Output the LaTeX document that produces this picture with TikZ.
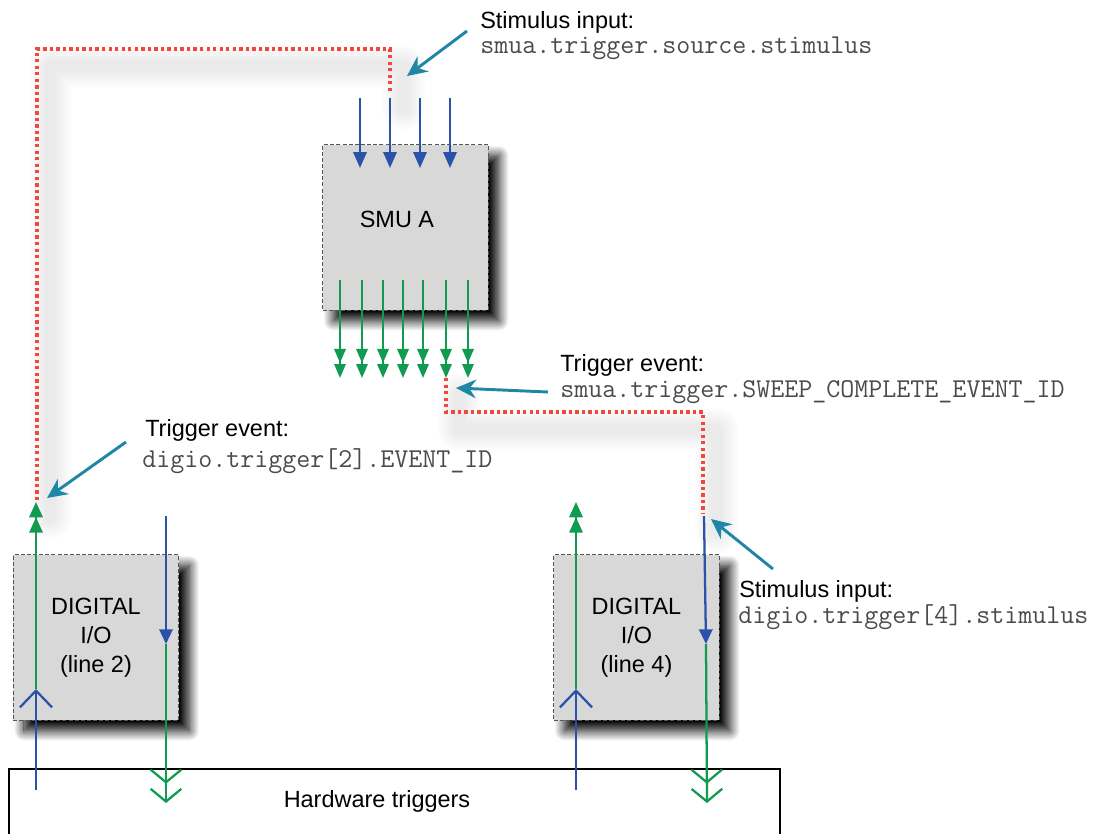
\documentclass[tikz,border=0pt]{standalone}
\usepackage{fontspec}
\setmainfont{Liberation Sans}
\usetikzlibrary{arrows.meta,shadows.blur}
\definecolor{arrblue}{RGB}{42,82,168}
\definecolor{arrgreen}{RGB}{16,155,80}
\definecolor{dotred}{RGB}{240,72,60}
\definecolor{calloutteal}{RGB}{30,135,165}
\definecolor{boxgray}{RGB}{216,216,216}
\definecolor{boxedge}{RGB}{85,85,85}
\definecolor{monogray}{RGB}{75,75,75}
\tikzset{
  unitbox/.style={draw=boxedge, dash pattern=on 3pt off 1.6pt, line width=0.9pt, fill=boxgray,
    minimum width=124pt, minimum height=124pt, inner sep=0pt, align=center,
    font=\fontsize{17.6pt}{21.75pt}\selectfont,
    blur shadow={shadow xshift=8pt, shadow yshift=-8pt, shadow blur radius=7.5pt,
      shadow blur steps=16, shadow opacity=100}},
  sanstext/.style={font=\fontsize{17.6pt}{21pt}\selectfont, anchor=base west, inner sep=0pt},
  monotext/.style={font=\ttfamily\fontsize{20.4pt}{24pt}\selectfont, text=monogray, anchor=base west, inner sep=0pt},
  dotline/.style={draw=dotred, line width=2.5pt, dash pattern=on 2.5pt off 2.4pt},
  dotshadow/.style={draw=black, opacity=0.012, line cap=round, line join=round},
  bluein/.style={draw=arrblue, line width=1.8pt, -{Triangle[length=12pt,width=10pt]}},
  bluedown/.style={draw=arrblue, line width=1.7pt, -{Triangle[length=11pt,width=10pt]}},
  greenout/.style={draw=arrgreen, line width=1.7pt,
    -{Triangle[length=10.5pt,width=8.5pt,sep=0.8pt] Triangle[length=10.5pt,width=8.5pt]}},
  greenup/.style={draw=arrgreen, line width=1.7pt,
    -{Triangle[length=11.5pt,width=10pt,sep=0pt] Triangle[length=11.5pt,width=10pt]}},
  bluechev/.style={draw=arrblue, line width=1.7pt, -{Straight Barb[length=12.5pt,width=24pt]}},
  greenchev/.style={draw=arrgreen, line width=1.7pt,
    -{Straight Barb[length=9.5pt,width=23pt,sep=3pt] Straight Barb[length=9.5pt,width=23pt]}},
  callout/.style={draw=calloutteal, line width=2.2pt, -{Stealth[length=15pt,width=14pt,inset=5pt]}},
}
\begin{document}
\begin{tikzpicture}[x=0.75pt,y=-0.75pt]
\useasboundingbox (0,0) rectangle (1107,833);
\clip (0,0) rectangle (1107,833);

% ---------- named points ----------
\coordinate (r1a) at (390,91);
\coordinate (r1top) at (390,49);
\coordinate (r1b) at (37,500);
\coordinate (r2a) at (446,378);
\coordinate (r2mid) at (446,412);
\coordinate (r2b) at (703,514);

% ---------- soft shadows of the dotted links ----------
\begin{scope}[transform canvas={xshift=10pt,yshift=-13pt}]
  \foreach \w in {32,28,24,20,16,12,8}{
    \draw[dotshadow, line width=\w pt] (r1a) -- (r1top) -| (r1b);
    \draw[dotshadow, line width=\w pt] (r2a) -- (r2mid) -| (r2b);
  }
\end{scope}

% ---------- dotted links ----------
\draw[dotline] (r1a) -- (r1top) -| (r1b);
\draw[dotline] (r2a) -- (r2mid) -| (r2b);

% ---------- boxes ----------
\node[unitbox] (smu) at (405.5,227.5) {};
\node[font=\fontsize{17.6pt}{21pt}\selectfont, anchor=base, inner sep=0pt] (smulabel) at (397,227) {SMU A};
\node[unitbox] (dio2) at (96,637.5) {DIGITAL\\I/O\\(line 2)};
\node[unitbox] (dio4) at (636.5,637.5) {DIGITAL\\I/O\\(line 4)};

\node[draw=black, line width=1.5pt, minimum width=578pt, minimum height=75pt, inner sep=0pt] (hwbox) at (394.5,819) {};
\node[font=\fontsize{17.6pt}{21pt}\selectfont, anchor=base, inner sep=0pt] (hwlabel) at (377,807) {Hardware triggers};

% ---------- SMU inputs ----------
\foreach \x [count=\i] in {360,390,420,450}{
  \coordinate (smuin\i) at (\x,98);
  \coordinate (smuinend\i) at (\x,168);
  \draw[bluein] (smuin\i) -- (smuinend\i);
}
% ---------- SMU outputs ----------
\foreach \x [count=\i] in {340,362,383,403,423,446,468}{
  \coordinate (smuout\i) at (\x,280);
  \coordinate (smuoutend\i) at (\x,378);
  \draw[greenout] (smuout\i) -- (smuoutend\i);
}

% ---------- digital I/O line 2 ----------
\coordinate (d2chev) at (36,689);
\coordinate (d2top) at (36,502);
\coordinate (d2hw) at (36,790);
\coordinate (d2in) at (166,516);
\coordinate (d2mid) at (166,644);
\coordinate (d2out) at (166,803);
\draw[greenup] (d2chev) -- (d2top);
\draw[bluechev] (d2hw) -- (d2chev);
\draw[bluedown] (d2in) -- (d2mid);
\draw[greenchev] (d2mid) -- (d2out);

% ---------- digital I/O line 4 ----------
\coordinate (d4chev) at (576,689);
\coordinate (d4top) at (576,502);
\coordinate (d4hw) at (576,790);
\coordinate (d4in) at (704,516);
\coordinate (d4mid) at (706,644);
\coordinate (d4out) at (707,803);
\draw[greenup] (d4chev) -- (d4top);
\draw[bluechev] (d4hw) -- (d4chev);
\draw[bluedown] (d4in) -- (d4mid);
\draw[greenchev] (d4mid) -- (d4out);

% ---------- callout texts ----------
\node[sanstext] (t1a) at (480,28) {Stimulus input:};
\node[monotext] (t1b) at (480,53) {smua.trigger.source.stimulus};
\node[sanstext] (t2a) at (560,371) {Trigger event:};
\node[monotext] (t2b) at (560,397) {smua.trigger.SWEEP\_COMPLETE\_EVENT\_ID};
\node[sanstext] (t3a) at (145,436) {Trigger event:};
\node[monotext] (t3b) at (142,467) {digio.trigger[2].EVENT\_ID};
\node[sanstext] (t4a) at (739,597) {Stimulus input:};
\node[monotext] (t4b) at (738,623) {digio.trigger[4].stimulus};

% ---------- callout arrows ----------
\coordinate (c1s) at (467,31);   \coordinate (c1e) at (407,76);
\coordinate (c2s) at (548,392);  \coordinate (c2e) at (456,388);
\coordinate (c3s) at (126,442);  \coordinate (c3e) at (47,498);
\coordinate (c4s) at (773,569);  \coordinate (c4e) at (711,519);
\draw[callout] (c1s) -- (c1e);
\draw[callout] (c2s) -- (c2e);
\draw[callout] (c3s) -- (c3e);
\draw[callout] (c4s) -- (c4e);
\end{tikzpicture}
\end{document}
